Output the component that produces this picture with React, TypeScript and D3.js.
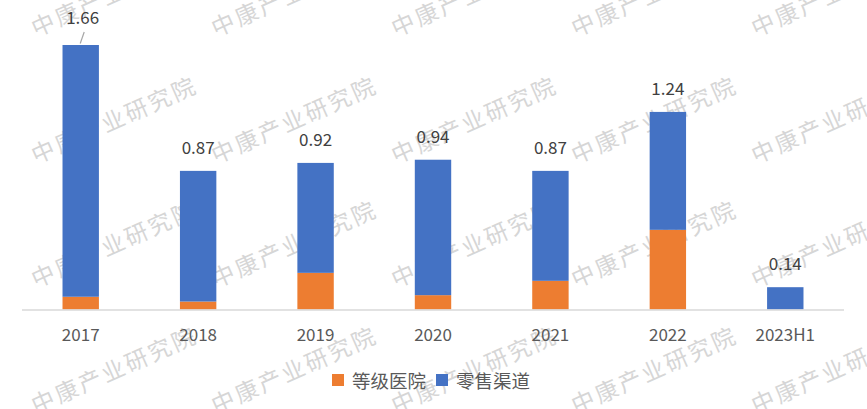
import React from "react";
import * as d3 from "d3";

const categories = ["2017", "2018", "2019", "2020", "2021", "2022", "2023H1"];
const hospital = [0.08, 0.05, 0.23, 0.09, 0.18, 0.5, 0];
const retail = [1.58, 0.82, 0.69, 0.85, 0.69, 0.74, 0.14];
const seriesNames = ["等级医院", "零售渠道"];
const colors = ["#ED7D31", "#4472C4"];
const watermarkText = "中康产业研究院";
const wmCols = [43, 223, 403, 583, 763];
const wmRows = [23, 150, 274, 400];

const W = 867;
const H = 409;

export default function App() {
  const x = d3.scaleBand<string>().domain(categories).range([22, 844]).paddingInner(0.69).paddingOuter(0.345);
  const y = d3.scaleLinear().domain([0, 1.66]).range([309.5, 45]);
  const rows = categories.map((c, i) => ({ c, h: hospital[i], r: retail[i], t: hospital[i] + retail[i] }));
  const font = "'Noto Sans CJK SC', 'Noto Sans', sans-serif";
  return (
    <svg width={W} height={H} style={{ position: "absolute", left: 0, top: 0, background: "#fff" }} fontFamily={font}>
      <rect width={W} height={H} fill="#fff" />
      <g>
        {wmRows.map((ry) =>
          wmCols.map((cx) => (
            <text
              key={`${cx}-${ry}`}
              transform={`translate(${cx},${ry}) rotate(-24)`}
              x={-12}
              dominantBaseline="central"
              fontSize={23}
              letterSpacing={2.5}
              fill="#d6d6d6"
            >
              {watermarkText}
            </text>
          ))
        )}
      </g>
      {rows.map((d) => (
        <g key={d.c}>
          {d.h > 0 && (
            <rect x={x(d.c)} width={x.bandwidth()} y={y(d.h)} height={y(0) - y(d.h)} fill={colors[0]} />
          )}
          <rect x={x(d.c)} width={x.bandwidth()} y={y(d.t)} height={y(d.h) - y(d.t)} fill={colors[1]} />
        </g>
      ))}
      <line x1={22} x2={844} y1={310} y2={310} stroke="#d9d9d9" strokeWidth={1.5} />
      {rows.map((d, i) => {
        const cx = (x(d.c) as number) + x.bandwidth() / 2;
        const isFirst = i === 0;
        return (
          <g key={"l" + d.c}>
            {isFirst && (
              <line x1={cx + 3.5} y1={32} x2={cx - 0.5} y2={43.5} stroke="#a6a6a6" strokeWidth={1.2} />
            )}
            <text
              x={isFirst ? cx + 2 : cx}
              y={isFirst ? 24 : y(d.t) - 17}
              textAnchor="middle"
              fontSize={17}
              fill="#404040"
            >
              {d3.format(".2f")(d.t)}
            </text>
            <text x={cx} y={341} textAnchor="middle" fontSize={17} fill="#595959">
              {d.c}
            </text>
          </g>
        );
      })}
      <g>
        <rect x={332} y={374} width={12} height={12} fill={colors[0]} />
        <text x={352} y={387.5} fontSize={18.5} fill="#595959">{seriesNames[0]}</text>
        <rect x={436} y={374} width={12} height={12} fill={colors[1]} />
        <text x={456} y={387.5} fontSize={18.5} fill="#595959">{seriesNames[1]}</text>
      </g>
    </svg>
  );
}
